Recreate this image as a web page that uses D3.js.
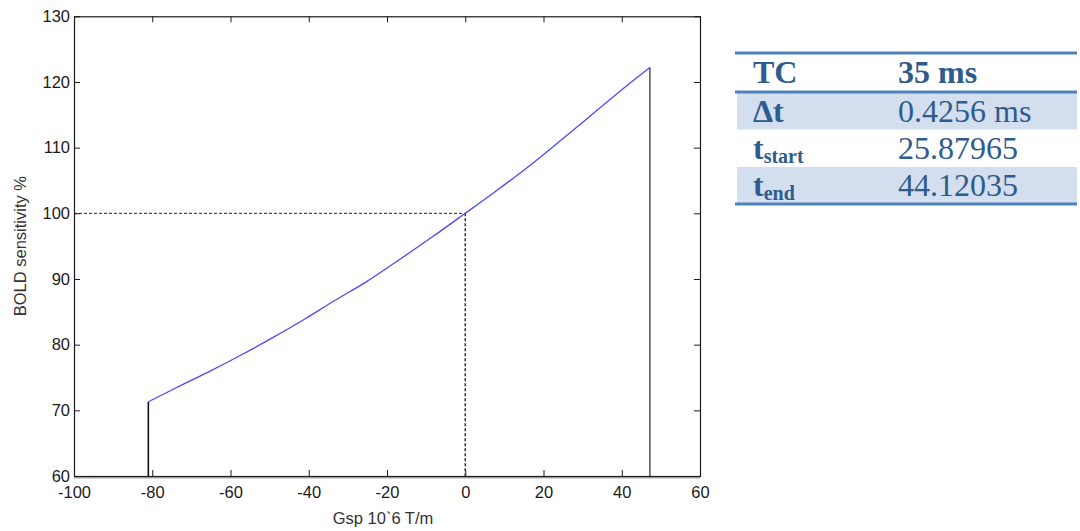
<!DOCTYPE html>
<html>
<head>
<meta charset="utf-8">
<script src="https://cdn.jsdelivr.net/npm/d3@7"></script>
<style>
  html, body { margin: 0; padding: 0; background: #fff; }
  svg { display: block; }
</style>
</head>
<body>
<svg id="chart" width="1080" height="531"></svg>
<script>
// ---- data ----
const gsp = [-81.0, -74.0, -66.1, -58.0, -49.1, -41.0, -33.7, -25.2, -16.7, -8.2, 0.0, 7.2, 15.7, 24.2, 32.7, 41.2, 47.2];
const sensitivity = [71.3, 73.4, 75.7, 78.2, 81.1, 83.9, 86.6, 89.6, 93.0, 96.5, 100.0, 103.1, 106.9, 111.0, 115.2, 119.4, 122.2];
const xTicks = [-100, -80, -60, -40, -20, 0, 20, 40, 60];
const yTicks = [60, 70, 80, 90, 100, 110, 120, 130];
const refX = 0;
const refY = 100;
const xLabel = "Gsp 10`6 T/m";
const yLabel = "BOLD sensitivity %";
const tableLabels = ["TC", "Δt", "t", "t"];
const tableSubs = ["", "", "start", "end"];
const tableValues = ["35 ms", "0.4256 ms", "25.87965", "44.12035"];

// ---- chart ----
const svg = d3.select("#chart");
const x = d3.scaleLinear().domain([-100, 60]).range([74, 700]);
const y = d3.scaleLinear().domain([60, 130]).range([476, 16.3]);
const tickFont = "'Liberation Sans', Arial, sans-serif";
const axisColor = "#1a1a1a";
const fmt = d => String(d);

// bottom shadow line
svg.append("line")
  .attr("x1", x(-100)).attr("x2", x(60))
  .attr("y1", y(60) + 1.5).attr("y2", y(60) + 1.5)
  .attr("stroke", "#aaa").attr("stroke-width", 2);

function styleAxis(g, showLabels) {
  g.select(".domain").remove();
  g.selectAll(".tick line").attr("stroke", axisColor);
  g.selectAll(".tick text")
    .attr("fill", "#1a1a1a")
    .style("font-family", tickFont)
    .style("font-size", "16.5px");
  if (!showLabels) g.selectAll(".tick text").remove();
}

svg.append("g").attr("transform", `translate(0,${y(60)})`)
  .call(d3.axisBottom(x).tickValues(xTicks).tickSize(-6).tickPadding(10).tickFormat(fmt))
  .call(g => styleAxis(g, true));
svg.append("g").attr("transform", `translate(0,${y(130)})`)
  .call(d3.axisTop(x).tickValues(xTicks).tickSize(-6))
  .call(g => styleAxis(g, false));
svg.append("g").attr("transform", `translate(${x(-100)},0)`)
  .call(d3.axisLeft(y).tickValues(yTicks).tickSize(-6).tickPadding(4).tickFormat(fmt))
  .call(g => styleAxis(g, true));
svg.append("g").attr("transform", `translate(${x(60)},0)`)
  .call(d3.axisRight(y).tickValues(yTicks).tickSize(-6))
  .call(g => styleAxis(g, false));

// frame
svg.append("rect")
  .attr("x", x(-100) + 0.5).attr("y", y(130) + 0.5)
  .attr("width", x(60) - x(-100)).attr("height", y(60) - y(130))
  .attr("fill", "none").attr("stroke", axisColor).attr("stroke-width", 1.2);

// dashed reference lines
svg.append("line")
  .attr("x1", x(-100)).attr("x2", x(refX))
  .attr("y1", y(refY)).attr("y2", y(refY))
  .attr("stroke", "#222").attr("stroke-width", 1).attr("stroke-dasharray", "3,2");
svg.append("line")
  .attr("x1", x(refX)).attr("x2", x(refX))
  .attr("y1", y(refY)).attr("y2", y(60))
  .attr("stroke", "#333").attr("stroke-width", 1.5).attr("stroke-dasharray", "3,2");

// vertical boundary lines
const first = 0, last = gsp.length - 1;
[first, last].forEach(i => {
  svg.append("line")
    .attr("x1", x(gsp[i])).attr("x2", x(gsp[i]))
    .attr("y1", y(sensitivity[i])).attr("y2", y(60))
    .attr("stroke", "#111").attr("stroke-width", i === first ? 1.6 : 1.1);
});

// curve
svg.append("path")
  .datum(gsp.map((g, i) => [g, sensitivity[i]]))
  .attr("fill", "none")
  .attr("stroke", "#4a4aff")
  .attr("stroke-width", 1.3)
  .attr("d", d3.line().curve(d3.curveMonotoneX).x(d => x(d[0])).y(d => y(d[1])));

// axis labels
svg.append("text")
  .attr("x", (x(-100) + x(60)) / 2 - 4).attr("y", 524)
  .attr("text-anchor", "middle")
  .attr("fill", "#333")
  .style("font-family", tickFont).style("font-size", "16.5px")
  .text(xLabel);
svg.append("text")
  .attr("transform", `translate(26,${(y(60) + y(130)) / 2}) rotate(-90)`)
  .attr("text-anchor", "middle")
  .attr("fill", "#333")
  .style("font-family", tickFont).style("font-size", "16.5px")
  .text(yLabel);

// ---- table ----
const tX0 = 737, tX1 = 1077;
const rowTops = [53, 92, 129.5, 167, 204];
const baselines = [83, 121.5, 159, 196];
const tableColor = "#4f81bd";
const textColor = "#2f5b8d";
const serif = "'Liberation Serif', 'Times New Roman', serif";
const tbl = svg.append("g");

tableLabels.forEach((lab, i) => {
  if (i % 2 === 1) {
    tbl.append("rect")
      .attr("x", tX0).attr("y", rowTops[i])
      .attr("width", tX1 - tX0).attr("height", rowTops[i + 1] - rowTops[i])
      .attr("fill", "#d3dfee");
  }
  const t = tbl.append("text")
    .attr("x", 753).attr("y", baselines[i])
    .attr("fill", textColor)
    .style("font-family", serif).style("font-size", "32px").style("font-weight", "bold");
  t.append("tspan").text(lab);
  if (tableSubs[i]) {
    t.append("tspan").attr("dy", 4).style("font-size", "20px").text(tableSubs[i]);
  }
  tbl.append("text")
    .attr("x", 898).attr("y", baselines[i])
    .attr("fill", textColor)
    .style("font-family", serif).style("font-size", "32px")
    .style("font-weight", i === 0 ? "bold" : "normal")
    .text(tableValues[i]);
});

[[rowTops[0], 3], [rowTops[1], 3], [rowTops[4], 3]].forEach(([yy, w]) => {
  tbl.append("line")
    .attr("x1", tX0 - 2).attr("x2", tX1)
    .attr("y1", yy).attr("y2", yy)
    .attr("stroke", tableColor).attr("stroke-width", w);
});
</script>
</body>
</html>
